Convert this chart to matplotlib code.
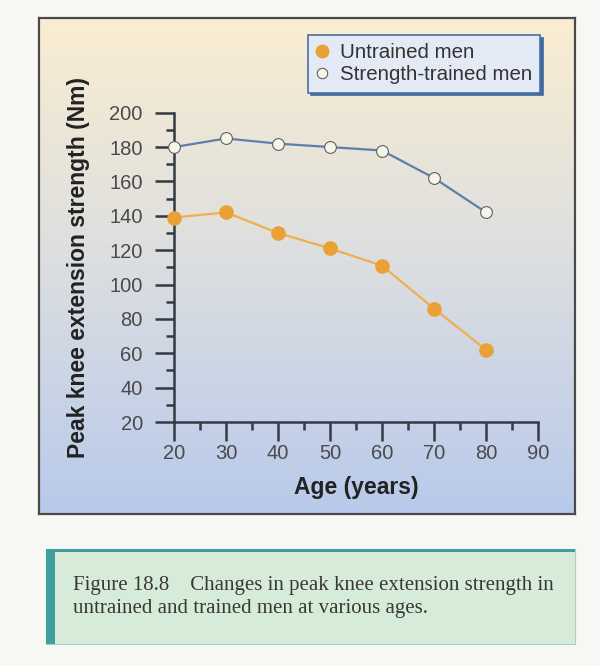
import numpy as np
import matplotlib
matplotlib.use('Agg')
import matplotlib.pyplot as plt
from matplotlib.patches import Rectangle
from matplotlib.lines import Line2D
from matplotlib.ticker import MultipleLocator

# data
ages = [20, 30, 40, 50, 60, 70, 80]
untrained = [139, 142, 130, 121, 111, 86, 62]
strength_trained = [180, 185, 182, 180, 178, 162, 142]
series_labels = ['Untrained men', 'Strength-trained men']
x_ticks = [20, 30, 40, 50, 60, 70, 80, 90]
y_ticks = [20, 40, 60, 80, 100, 120, 140, 160, 180, 200]
caption = ('Figure 18.8    Changes in peak knee extension strength in\n'
           'untrained and trained men at various ages.')

W, H = 600, 666
plt.rcParams['font.family'] = ['Liberation Sans', 'DejaVu Sans']

fig = plt.figure(figsize=(W / 100, H / 100), dpi=100)
fig.patch.set_facecolor('#f7f7f4')


def fx(px):
    return px / W


def fy(py):
    return 1 - py / H


# gradient panel behind the chart
x0, x1, y0, y1 = 39, 575, 18, 514
bg = fig.add_axes([fx(x0), fy(y1), fx(x1 - x0), fy(y0) - fy(y1)])
top = np.array([0.98, 0.93, 0.82])
mid = np.array([0.86, 0.87, 0.88])
bot = np.array([0.72, 0.79, 0.92])
t = np.linspace(0, 1, 256)[:, None]
grad = np.where(t < 0.5, top * (1 - 2 * t) + mid * 2 * t,
                mid * (2 - 2 * t) + bot * (2 * t - 1))
bg.imshow(grad[:, None, :].repeat(2, axis=1), aspect='auto', extent=[0, 1, 0, 1])
bg.set_xticks([])
bg.set_yticks([])
for s in bg.spines.values():
    s.set_color('#4a4a4a')
    s.set_linewidth(1.6)

# main axes
ax = fig.add_axes([fx(174), fy(422), fx(538 - 174), fy(112.7) - fy(422)])
ax.patch.set_alpha(0)
ax.plot(ages, untrained, color='#eeb04e', lw=1.6, marker='o', ms=9.5,
        mfc='#e9a135', mec='#e9a135', zorder=3, clip_on=False)
ax.plot(ages, strength_trained, color='#5b80ab', lw=1.6, marker='o', ms=8.5,
        mfc='#f7f5ea', mec='#606060', mew=0.8, zorder=3, clip_on=False)

ax.set_xlim(20, 90)
ax.set_ylim(20, 200)
ax.set_xticks(x_ticks)
ax.set_yticks(y_ticks)
ax.xaxis.set_minor_locator(MultipleLocator(5))
ax.yaxis.set_minor_locator(MultipleLocator(10))
for side in ['top', 'right']:
    ax.spines[side].set_visible(False)
for side in ['left', 'bottom']:
    ax.spines[side].set_color('#333a44')
    ax.spines[side].set_linewidth(1.8)
ax.tick_params(which='major', direction='out', length=13.5, width=1.8,
               color='#333a44', labelsize=14.5, labelcolor='#4a4a4a')
ax.tick_params(which='minor', direction='out', length=6, width=1.8,
               color='#333a44')
ax.tick_params(axis='x', which='major', pad=2)
ax.tick_params(axis='y', which='major', pad=9)

ax.set_xlabel('Age (years)', fontsize=16.5, fontweight='bold', color='#222222',
              labelpad=10)
ax.set_ylabel('Peak knee extension strength (Nm)', fontsize=16.5,
              fontweight='bold', color='#222222', labelpad=14)

# legend above the plot
handles = [
    Line2D([], [], ls='none', marker='o', ms=9, mfc='#e9a135', mec='#e9a135'),
    Line2D([], [], ls='none', marker='o', ms=7.5, mfc='#f7f5ea', mec='#606060',
           mew=0.8),
]
leg = fig.legend(handles, series_labels, loc='upper left',
                 bbox_to_anchor=(fx(308), fy(35)), bbox_transform=fig.transFigure,
                 borderaxespad=0, fontsize=14.8, frameon=True, fancybox=False,
                 handlelength=0.6, handletextpad=0.55, borderpad=0.4,
                 labelspacing=0.15, shadow={'color': '#3f6a9c', 'alpha': 1})
leg.get_frame().set_facecolor('#e3eaf6')
leg.get_frame().set_edgecolor('#4a6fa5')
leg.get_frame().set_linewidth(1.2)
leg.get_frame().set_alpha(1)
for txt in leg.get_texts():
    txt.set_color('#333333')

# caption box
fig.patches.append(Rectangle((fx(46), fy(644)), fx(575 - 46), fy(549) - fy(644),
                             transform=fig.transFigure, facecolor='#d7ecd8',
                             edgecolor='#a9cfc4', lw=0.8, zorder=1))
fig.patches.append(Rectangle((fx(46), fy(644)), fx(9), fy(549) - fy(644),
                             transform=fig.transFigure, facecolor='#3f9ea0',
                             edgecolor='none', zorder=2))
fig.patches.append(Rectangle((fx(46), fy(552)), fx(575 - 46), fy(549) - fy(552),
                             transform=fig.transFigure, facecolor='#3f9ea0',
                             edgecolor='none', zorder=2))
fig.text(fx(73), fy(597), caption, family=['Liberation Serif', 'DejaVu Serif'],
         fontsize=15, color='#383838', va='center', ha='left', linespacing=1.22)

fig.savefig('out.png', dpi=100, facecolor=fig.get_facecolor())
